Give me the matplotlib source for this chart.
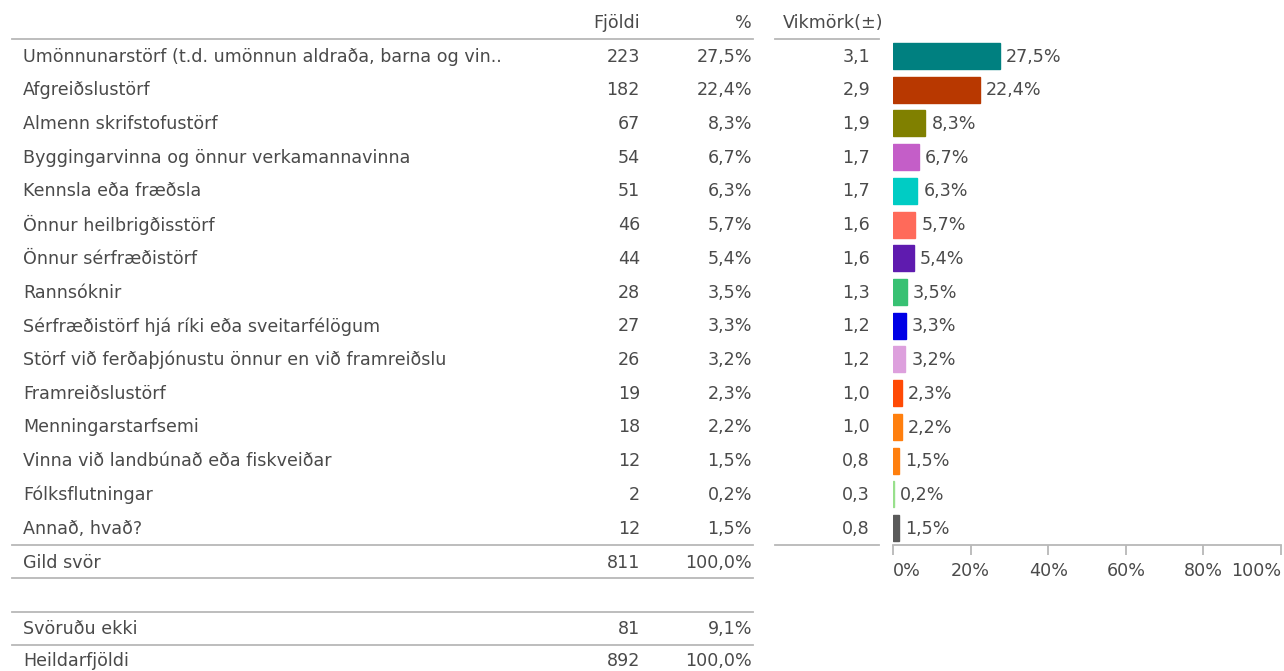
import matplotlib
matplotlib.use("Agg")
import matplotlib.pyplot as plt
from matplotlib.lines import Line2D

plt.rcParams['font.family'] = ['DejaVu Sans']

categories = [
    "Umönnunarstörf (t.d. umönnun aldraða, barna og vin..",
    "Afgreiðslustörf",
    "Almenn skrifstofustörf",
    "Byggingarvinna og önnur verkamannavinna",
    "Kennsla eða fræðsla",
    "Önnur heilbrigðisstörf",
    "Önnur sérfræðistörf",
    "Rannsóknir",
    "Sérfræðistörf hjá ríki eða sveitarfélögum",
    "Störf við ferðaþjónustu önnur en við framreiðslu",
    "Framreiðslustörf",
    "Menningarstarfsemi",
    "Vinna við landbúnað eða fiskveiðar",
    "Fólksflutningar",
    "Annað, hvað?",
]
counts = [223, 182, 67, 54, 51, 46, 44, 28, 27, 26, 19, 18, 12, 2, 12]
percents = [27.5, 22.4, 8.3, 6.7, 6.3, 5.7, 5.4, 3.5, 3.3, 3.2, 2.3, 2.2, 1.5, 0.2, 1.5]
margins = [3.1, 2.9, 1.9, 1.7, 1.7, 1.6, 1.6, 1.3, 1.2, 1.2, 1.0, 1.0, 0.8, 0.3, 0.8]
bar_colors = ["#008080", "#B83800", "#808000", "#C45EC8", "#00CCC4", "#FF6A5A",
              "#5F1BAF", "#38C173", "#0000E6", "#DDA0DD", "#FF4A05", "#FF7F0E",
              "#FF7F0E", "#98E08C", "#5A5A5A"]

summary_rows = [("Gild svör", 811, 100.0), ("Svöruðu ekki", 81, 9.1), ("Heildarfjöldi", 892, 100.0)]
headers = ["Fjöldi", "%", "Vikmörk(±)"]
xticks = [0, 20, 40, 60, 80, 100]

W, H = 1284, 671
TXT = "#4a4a4a"
RULE = "#b8b8b8"
FS = 12.6
DY = 0.5  # baseline nudge for table text, in pixels


def fmt(v, nd=1):
    return f"{v:.{nd}f}".replace(".", ",")


fig = plt.figure(figsize=(W / 100, H / 100), dpi=100)

# overlay in pixel coordinates for the table part
ov = fig.add_axes([0, 0, 1, 1])
ov.set_xlim(0, W)
ov.set_ylim(H, 0)
ov.axis("off")

row0, step = 56.0, 33.72
x_label, x_cnt, x_pct, x_moe = 23, 640, 752, 870

# header
ov.text(x_cnt, 22 + DY, headers[0], ha="right", va="center", fontsize=FS, color=TXT)
ov.text(x_pct, 22 + DY, headers[1], ha="right", va="center", fontsize=FS, color=TXT)
ov.text(783, 22 + DY, headers[2], ha="left", va="center", fontsize=FS, color=TXT)


def hline(y, x0, x1):
    ov.add_line(Line2D([x0, x1], [y, y], color=RULE, lw=1.3))


hline(39, 12, 753)
hline(39, 775, 879)

for i, (cat, n, p, m) in enumerate(zip(categories, counts, percents, margins)):
    y = row0 + i * step + DY
    ov.text(x_label, y, cat, ha="left", va="center", fontsize=FS, color=TXT)
    ov.text(x_cnt, y, str(n), ha="right", va="center", fontsize=FS, color=TXT)
    ov.text(x_pct, y, fmt(p) + "%", ha="right", va="center", fontsize=FS, color=TXT)
    ov.text(x_moe, y, fmt(m), ha="right", va="center", fontsize=FS, color=TXT)

hline(545, 12, 753)
hline(545, 775, 879)

sum_y = [562, 628, 661]
for (lab, n, p), y in zip(summary_rows, sum_y):
    ov.text(x_label, y + DY, lab, ha="left", va="center", fontsize=FS, color=TXT)
    ov.text(x_cnt, y + DY, str(n), ha="right", va="center", fontsize=FS, color=TXT)
    ov.text(x_pct, y + DY, fmt(p) + "%", ha="right", va="center", fontsize=FS, color=TXT)
hline(578, 12, 753)
hline(612, 12, 753)
hline(645, 12, 753)

# bar chart
x0, x1 = 893, 1281
ytop, ybot = 39, 545
ax = fig.add_axes([x0 / W, 1 - ybot / H, (x1 - x0) / W, (ybot - ytop) / H])
ax.set_xlim(0, 100)
ax.set_ylim(len(categories) - 0.5, -0.5)
ypos = list(range(len(categories)))
ax.barh(ypos, percents, height=0.77, color=bar_colors, edgecolor=bar_colors,
        linewidth=1.0, align="center")
for y, p in zip(ypos, percents):
    ax.text(p + 1.6, y + 0.02, fmt(p) + "%", ha="left", va="center", fontsize=FS, color=TXT)

for s in ["top", "right", "left"]:
    ax.spines[s].set_visible(False)
ax.spines["bottom"].set_color(RULE)
ax.spines["bottom"].set_linewidth(1.3)
ax.set_yticks([])
ax.set_xticks(xticks)
ax.set_xticklabels([f"{t}%" for t in xticks], fontsize=FS, color=TXT)
ax.tick_params(axis="x", length=7, width=1.3, color=RULE, pad=5)
labs = ax.get_xticklabels()
labs[0].set_ha("left")
labs[-1].set_ha("right")
ax.patch.set_alpha(0)

fig.savefig("out.png", dpi=100)
